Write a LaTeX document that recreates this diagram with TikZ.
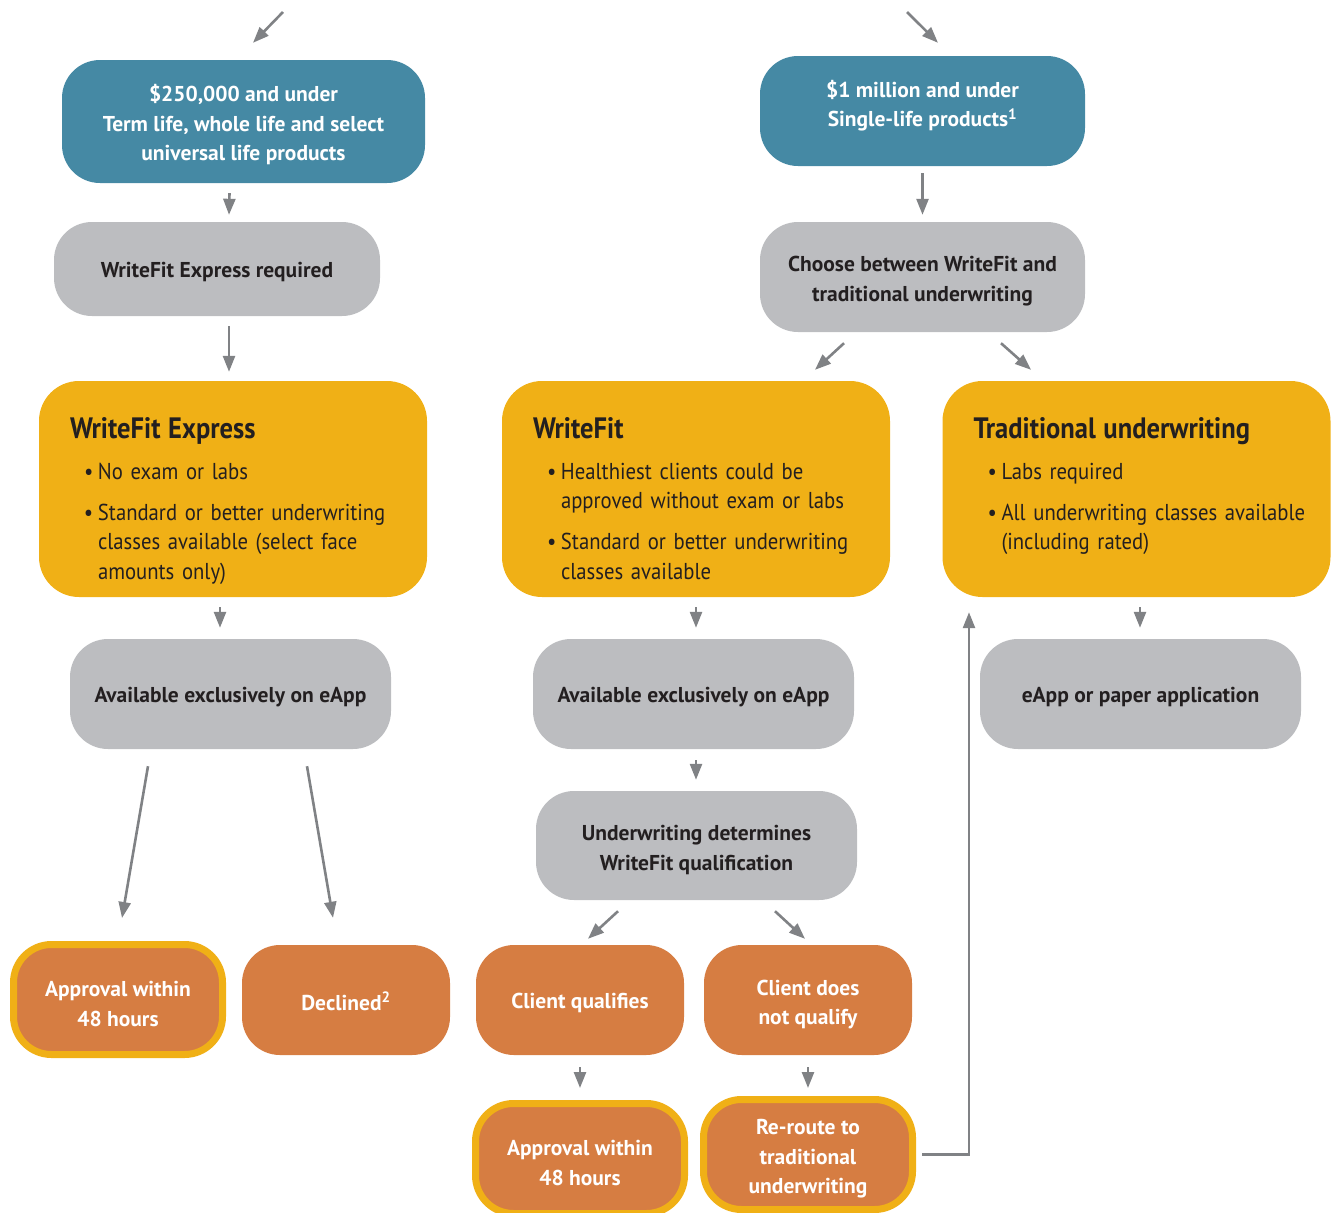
\documentclass[tikz,border=0pt]{standalone}
\usepackage{fontspec}
\setmainfont{PT Sans}
\newfontfamily\bodyfont[FakeStretch=0.9]{PT Sans}
\usetikzlibrary{arrows.meta,calc}

\definecolor{uwblue}{HTML}{4589A4}
\definecolor{uwgray}{HTML}{BCBDC0}
\definecolor{uwyellow}{HTML}{F0B016}
\definecolor{uworange}{HTML}{D67D42}
\definecolor{uwarrow}{HTML}{808285}
\definecolor{uwtext}{HTML}{231F20}

\newcommand{\up}{\rule{0pt}{24pt}}
\newcommand{\down}{\rule[-15pt]{0pt}{1pt}}
\newcommand{\ytitle}[1]{{\fontsize{29.5}{29.5}\selectfont\bfseries #1}}
\newcommand{\ybul}[1]{\par\vspace{11.5pt}{\leftskip=28pt\rightskip=-30pt plus 1fil
    \hyphenpenalty=10000\noindent\hspace*{-14pt}\makebox[14pt][l]{•}#1\par}}

\begin{document}
\begin{tikzpicture}[x=1pt,y=-1pt]
      \tikzset{box/.style={rounded corners=38pt, inner sep=0pt, align=center,
          font=\fontsize{21.5}{29.5}\selectfont\bfseries,
          execute at begin node={\rule{0pt}{21pt}}},
        blue box/.style={box, fill=uwblue, text=white},
        gray box/.style={box, fill=uwgray, text=uwtext},
        orange box/.style={box, fill=uworange, text=white,
          minimum width=208pt, minimum height=110pt},
        result box/.style={orange box, draw=uwyellow, line width=7pt,
          minimum width=209pt},
        yellow box/.style={fill=uwyellow, rounded corners=40pt, inner xsep=31pt,
          inner ysep=0pt, text width=326pt, align=left, text height=57pt,
          text depth=159pt, text=uwtext, font=\bodyfont\fontsize{23}{29.5}\selectfont},
        arr/.style={draw=uwarrow, line width=2.6pt, -{Triangle[length=16pt,width=12pt]}}
      }
      \useasboundingbox (0,0) rectangle (1331,1213);

      \coordinate (inL) at (283,12);
      \coordinate (inR) at (907,12);

      \node [blue box, minimum width=363pt, minimum height=123pt] (blueL) at (243.5,121.5)
        {\up\$250,000 and under\\Term life, whole life and select\\universal life products};
      \node [blue box, minimum width=325pt, minimum height=110pt] (blueR) at (922.5,111)
        {\$1 million and under\\Single-life products\textsuperscript{1}\down};

      \node [gray box, minimum width=326pt, minimum height=94pt] (expreq) at (217,269)
        {WriteFit Express required};
      \node [gray box, minimum width=325pt, minimum height=110pt] (choose) at (922.5,277)
        {\up Choose between WriteFit and\\traditional underwriting};

      \node [yellow box] (wfx) at (233,489) {\ytitle{WriteFit Express}
        \ybul{No exam or labs}
        \ybul{Standard or better underwriting\\classes available (select face\\amounts only)}};
      \node [yellow box] (wf) at (696,489) {\ytitle{WriteFit}
        \ybul{Healthiest clients could be\\approved without exam or labs}
        \ybul{Standard or better underwriting\\classes available}};
      \node [yellow box] (trad) at (1136.5,489) {\ytitle{Traditional underwriting}
        \ybul{Labs required}
        \ybul{All underwriting classes available\\(including rated)}};

      \node [gray box, minimum width=321pt, minimum height=110pt] (eappL) at (230.5,694)
        {Available exclusively on eApp};
      \node [gray box, minimum width=321pt, minimum height=110pt] (eappM) at (693.5,694)
        {Available exclusively on eApp};
      \node [gray box, minimum width=321pt, minimum height=110pt] (eappR) at (1140.5,694)
        {eApp or paper application};
      \node [gray box, minimum width=321pt, minimum height=109pt] (uwdet) at (696.5,845.5)
        {\up Underwriting determines\\WriteFit qualification};

      \node [result box] (apprL) at (118,999.5) {\up Approval within\\48 hours};
      \node [orange box] (declined) at (346,1000) {Declined\textsuperscript{2}};
      \node [orange box] (qual) at (580,1000) {Client qualifies};
      \node [orange box] (notqual) at (808,1000) {\up Client does\\not qualify};
      \node [result box] (apprM) at (580,1158.5) {\up Approval within\\48 hours};
      \node [result box] (reroute) at (808,1154.5) {\up Re-route to\\traditional\\underwriting};

      \draw [arr] (inL) -- ($(blueL.north)+(9.5,-17)$);
      \draw [arr] (inR) -- ($(blueR.north)+(15.5,-13)$);
      \draw [arr] ($(blueL.south)+(-14,10)$) -- ($(expreq.north)+(12,-7)$);
      \draw [arr] ($(blueR.south)+(0,7)$) -- ($(choose.north)+(0,-7)$);
      \draw [arr] ($(expreq.south)+(12,10)$) -- ($(wfx.north)+(-4,-9)$);
      \draw [arr] ($(choose.south)+(-78.5,11)$) -- ($(wf.north)+(119,-11)$);
      \draw [arr] ($(choose.south)+(78.5,11)$) -- ($(trad.north)+(-105.5,-11)$);
      \draw [arr] ($(wfx.south)+(-13,10)$) -- ($(eappL.north)+(-10.5,-11)$);
      \draw [arr] ($(wf.south)+(0,10)$) -- ($(eappM.north)+(2.5,-11)$);
      \draw [arr] ($(trad.south)+(3.5,10)$) -- ($(eappR.north)+(-0.5,-11)$);
      \draw [arr] ($(eappL.south)+(-82.5,17)$) -- ($(apprL.north)+(4,-23)$);
      \draw [arr] ($(eappL.south)+(76.5,17)$) -- ($(declined.north)+(-13,-27)$);
      \draw [arr] ($(eappM.south)+(2.5,11)$) -- ($(uwdet.north)+(-0.5,-11)$);
      \draw [arr] ($(uwdet.south)+(-78.5,11)$) -- ($(qual.north)+(8,-6)$);
      \draw [arr] ($(uwdet.south)+(78.5,11)$) -- ($(notqual.north)+(-3,-6)$);
      \draw [arr] ($(qual.south)+(0,12)$) -- ($(apprM.north)+(0,-12)$);
      \draw [arr] ($(notqual.south)+(0,12)$) -- ($(reroute.north)+(0,-8)$);
      \draw [arr] ($(reroute.east)+(6,0)$) -| ($(trad.south)+(-167.5,15)$);
    \end{tikzpicture}
\end{document}
